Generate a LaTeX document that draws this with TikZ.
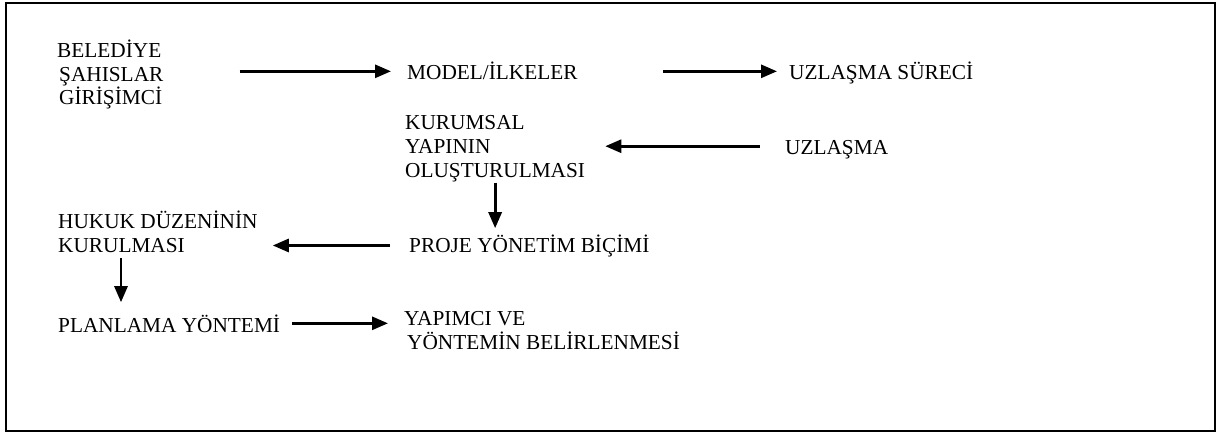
\documentclass[tikz,border=0pt]{standalone}
\usepackage{fontspec}
\setmainfont{Liberation Serif}
\usetikzlibrary{arrows.meta,calc}
\tikzset{
  every node/.style={font=\fontsize{21.3}{23.6}\selectfont, inner sep=0pt, anchor=base west},
  lbl/.style={align=left},
  arr/.style={-{Triangle[length=16pt,width=13pt]}, line width=2.8pt},
  frame/.style={line width=2pt},
}
\begin{document}
\begin{tikzpicture}[x=1pt,y=-1pt]
\useasboundingbox (0,0) rectangle (1221,433);
\draw[frame] (6,3) rectangle (1215,431);

% ---------------- top row
\node[lbl] (bel) at (57,105) {BELEDİYE\\\hspace*{2pt}ŞAHISLAR\\\hspace*{2pt}GİRİŞİMCİ};
\node (model) at (407,80) {MODEL/İLKELER};
\node (surec) at (789,80) {UZLAŞMA SÜRECİ};

% ---------------- middle rows
\node[lbl] (kurum) at (405,177) {KURUMSAL\\YAPININ\\OLUŞTURULMASI};
\node (uzlasma) at (785,154) {UZLAŞMA};
\node (proje) at (409,252) {PROJE YÖNETİM BİÇİMİ};
\node[lbl] (hukuk) at (58,252) {HUKUK DÜZENİNİN\\KURULMASI};

% ---------------- bottom row
\node (plan) at (58,332) {PLANLAMA YÖNTEMİ};
\node[lbl] (yapimci) at (404,349) {YAPIMCI VE\\\hspace*{3pt}YÖNTEMİN BELİRLENMESİ};

% ---------------- arrows
\draw[arr, shorten <=76pt, shorten >=16pt] (bel.east |- model.west) -- (model.west);
\draw[arr, shorten <=85pt, shorten >=12pt] (model.east) -- (model.east -| surec.west);
\draw[arr, shorten <=25pt, shorten >=20pt] ([yshift=3pt]uzlasma.west) -- ([yshift=3pt]uzlasma.west -| kurum.east);
\draw[arr, shorten <=1pt, shorten >=6pt] (kurum.south) -- (kurum.south |- proje.north);
\draw[arr, shorten <=19pt, shorten >=15pt] (proje.west) -- (proje.west -| hukuk.east);
\draw[arr, shorten <=6pt, shorten >=12pt] ([xshift=63pt]hukuk.south west) -- ([xshift=63pt]plan.north west);
\draw[arr, shorten <=12pt, shorten >=16pt] (plan.east) -- (plan.east -| yapimci.west);
\end{tikzpicture}
\end{document}
